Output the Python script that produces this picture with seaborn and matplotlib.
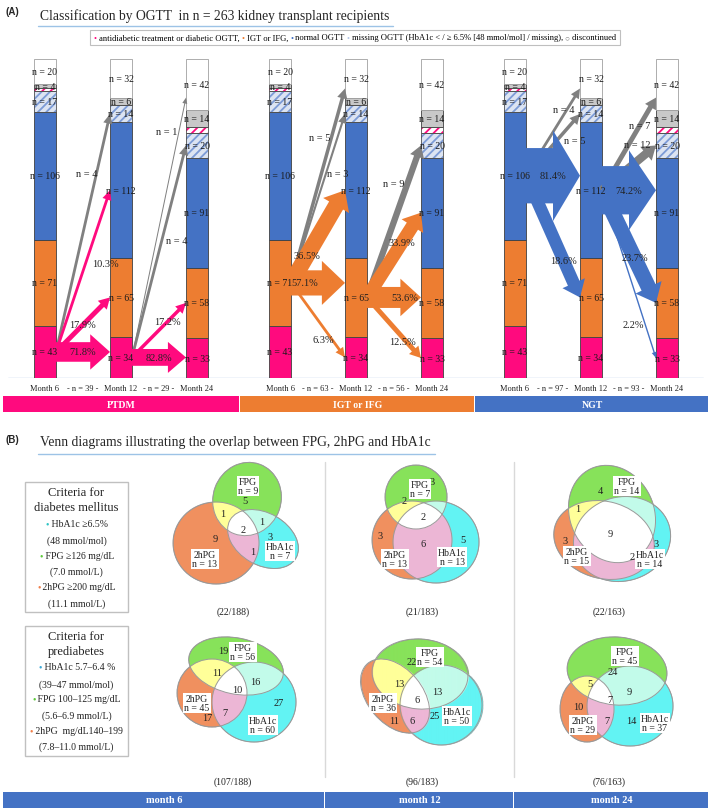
import numpy as np
import matplotlib
matplotlib.use('Agg')
import matplotlib.pyplot as plt
import seaborn as sns
from matplotlib.patches import Rectangle, Ellipse, FancyArrow
from matplotlib.offsetbox import TextArea, HPacker, AnchoredOffsetbox
from matplotlib.colors import to_rgba

# ---------------- data ----------------
groups = ['PTDM', 'IGT or IFG', 'NGT']
months = ['Month 6', 'Month 12', 'Month 24']
layers = ['PTDM', 'IGT', 'NGT', 'miss_low', 'miss_high', 'miss', 'disc']
month6_counts = [43, 71, 106, 17, 2, 4, 20]
month12_counts = [34, 65, 112, 14, 0, 6, 32]
month24_counts = [33, 58, 91, 20, 5, 14, 42]
interval_n = [[39, 29], [63, 56], [97, 93]]

nan = float('nan')
flow_group = [0, 0, 0, 0, 0, 0, 0, 0, 1, 1, 1, 1, 1, 1, 1, 1, 1, 2, 2, 2, 2, 2, 2, 2, 2, 2]
flow_step = [0, 0, 0, 0, 1, 1, 1, 1, 0, 0, 0, 0, 0, 1, 1, 1, 1, 0, 0, 0, 0, 1, 1, 1, 1, 1]
flow_target = ['PTDM', 'IGT', 'NGT', 'miss_low',
               'PTDM', 'IGT', 'miss_low', 'disc',
               'NGT', 'IGT', 'PTDM', 'disc', 'miss_low',
               'NGT', 'IGT', 'PTDM', 'miss_low',
               'NGT', 'IGT', 'disc', 'miss_low',
               'NGT', 'IGT', 'PTDM', 'disc', 'miss_low']
flow_pct = [71.8, 17.9, 10.3, nan,
            82.8, 17.2, nan, nan,
            36.5, 57.1, 6.3, nan, nan,
            33.9, 53.6, 12.5, nan,
            81.4, 18.6, nan, nan,
            74.2, 23.7, 2.2, nan, nan]
flow_n = [nan, nan, nan, 4,
          nan, nan, 4, 1,
          nan, nan, nan, 5, 3,
          nan, nan, nan, 9,
          nan, nan, 4, 5,
          nan, nan, nan, 7, 12]

venn_months = ['month 6', 'month 12', 'month 24']
# regions: FPG only, 2hPG only, HbA1c only, FPG&2hPG, FPG&HbA1c, 2hPG&HbA1c, all three
dm_regions = [[5, 9, 3, 1, 1, 1, 2], [3, 3, 5, 2, 0, 6, 2], [4, 3, 3, 1, 0, 2, 9]]
pre_regions = [[19, 17, 27, 11, 16, 7, 10], [22, 11, 25, 13, 13, 6, 6], [24, 10, 14, 5, 9, 7, 7]]
venn_denom = [188, 183, 163]

dm_heading = ['Criteria for', 'diabetes mellitus']
dm_items = [('HbA1c ≥6.5%', '(48 mmol/mol)'), ('FPG ≥126 mg/dL', '(7.0 mmol/L)'),
            ('2hPG ≥200 mg/dL', '(11.1 mmol/L)')]
pre_heading = ['Criteria for', 'prediabetes']
pre_items = [('HbA1c 5.7–6.4 %', '(39–47 mmol/mol)'), ('FPG 100–125 mg/dL', '(5.6–6.9 mmol/L)'),
             ('2hPG  mg/dL140–199', '(7.8–11.0 mmol/L)')]

# ---------------- style ----------------
sns.set_theme(style='white')
plt.rcParams['font.family'] = ['Liberation Serif', 'DejaVu Serif', 'DejaVu Sans']
plt.rcParams['hatch.linewidth'] = 1.3

PINK, ORANGE, BLUE, GRAY = '#FF0A7E', '#ED7D31', '#4472C4', '#808080'
group_colors = [PINK, ORANGE, BLUE]
layer_face = {'PTDM': PINK, 'IGT': ORANGE, 'NGT': BLUE, 'miss_low': '#DCE4F2',
              'miss_high': 'white', 'miss': '#C8C8C8', 'disc': 'white'}
layer_hatch = {'miss_low': ('////', '#7C9BD6'), 'miss_high': ('////', PINK)}

W, H = 709, 812
fig = plt.figure(figsize=(W / 100, H / 100), dpi=100)
base_px, top_px = 379, 58
axA = fig.add_axes([0, (H - base_px) / H, 1, (base_px - top_px) / H])
axT = fig.add_axes([0, 0, 1, 1], facecolor='none')
axA.axis('off')
axT.axis('off')
S_px, x0_px, G_px = 76.0, 45.0, 235.0
axA.set_xlim(-x0_px / S_px, (W - x0_px) / S_px)
axA.set_ylim(0, sum(month6_counts) + 2)
axT.set_xlim(0, W)
axT.set_ylim(H, 0)

G = G_px / S_px
bar_w = 22 / S_px
bar_counts = [month6_counts, month12_counts, month24_counts]


def pos(g, m):
    return g * G + m


def to_px(x, y):
    return axT.transData.inverted().transform(axA.transData.transform((x, y)))


def seg_bounds(m, layer):
    c = bar_counts[m]
    i = layers.index(layer)
    lo = sum(c[:i])
    return lo, lo + c[i]


# ---------------- panel A bars ----------------
for g in range(3):
    for m in range(3):
        c = bar_counts[m]
        bottom = 0
        for i, layer in enumerate(layers):
            v = c[i]
            if v == 0:
                continue
            x = pos(g, m)
            if layer in layer_hatch:
                hp, hc = layer_hatch[layer]
                axA.bar(x, v, bottom=bottom, width=bar_w, color=layer_face[layer],
                        edgecolor=hc, hatch=hp, linewidth=0, zorder=2)
                axA.bar(x, v, bottom=bottom, width=bar_w, fill=False,
                        edgecolor='#505050', linewidth=0.6, zorder=3)
            else:
                ec = '#a0a0a0' if layer == 'disc' else '#404040'
                axA.bar(x, v, bottom=bottom, width=bar_w, color=layer_face[layer],
                        edgecolor=ec, linewidth=0.6, zorder=2)
            bottom += v
axA.axhline(0, xmin=8 / W, xmax=703 / W, color='#B4C7E7', lw=1.0, zorder=1)

# ---------------- panel A arrows ----------------
label_layout = [(0.5, 0, 0), (0.5, 0, 0), (0.55, 20, 0), (0.75, -10, 0),
                (0.5, 0, 0), (0.65, 0, 0), (0.55, 15, 0), (0.87, -12, 0),
                (0.3, 0, 0), (0.25, 0, 0), (0.6, 0, 12), (0.75, -12, 0), (0.65, 12, 0),
                (0.65, 0, 0), (0.7, 0, 0), (0.65, 0, 5), (0.75, -14, 0),
                (0.5, 0, 0), (0.7, 0, 0), (0.7, 0, -5), (0.9, 0, 20),
                (0.5, 0, 0), (0.6, 0, 0), (0.8, -12, 0), (0.7, 0, 0), (0.8, -8, -10)]

order = sorted(range(len(flow_group)), key=lambda k: 0 if flow_target[k] in ('miss_low', 'disc') else 1)
arrow_texts = []
for k in order:
    g, s, tgt = flow_group[k], flow_step[k], flow_target[k]
    src = layers[g]
    lo, hi = seg_bounds(s, src)
    ys = (lo + hi) / 2
    tlo, thi = seg_bounds(s + 1, tgt)
    if tgt == src:
        ye = float(np.clip(ys, tlo + 4, thi - 4))
    elif tgt == 'disc':
        ye = tlo + 0.25 * (thi - tlo)
    else:
        ye = (tlo + thi) / 2
    pct = flow_pct[k]
    if np.isnan(pct):
        n = flow_n[k]
        col = GRAY
        lab = f'n = {int(n)}'
    else:
        n = round(pct * interval_n[g][s] / 100)
        col = group_colors[g]
        lab = f'{pct:.1f}%'
    xs, yps = to_px(pos(g, s) + bar_w / 2, ys)
    xe, ype = to_px(pos(g, s + 1) - bar_w / 2, ye)
    dx, dy = xe - xs, ype - yps
    L = np.hypot(dx, dy)
    shaft = max(1.0, 0.7 * n)
    if n <= 2:
        hw, hl = 5.0, 6.0
    else:
        hw = shaft * 1.55 + 5
        hl = min(0.5 * L, 0.6 * shaft + 8)
    axT.add_patch(FancyArrow(xs, yps, dx, dy, width=shaft, head_width=hw, head_length=hl,
                             length_includes_head=True, color=col, lw=0, zorder=4))
    t, ox, oy = label_layout[k]
    arrow_texts.append((xs + t * dx + ox, yps + t * dy + oy, lab))
for x, y, lab in arrow_texts:
    axT.text(x, y, lab, fontsize=7.5, ha='center', va='center', color='#222222', zorder=6)

# bar labels
for g in range(3):
    for m in range(3):
        c = bar_counts[m]
        for i, layer in enumerate(layers):
            if c[i] == 0 or layer == 'miss_high':
                continue
            lo, hi = seg_bounds(m, layer)
            px, py = to_px(pos(g, m), (lo + hi) / 2)
            axT.text(px, py, f'n = {c[i]}', fontsize=7, ha='center', va='center',
                     color='#1a1a1a', zorder=7)
    # month labels
    for m in range(3):
        px, _ = to_px(pos(g, m), 0)
        axT.text(px, 389, months[m], fontsize=6, ha='center', va='center', color='#222222')
    for s in range(2):
        px, _ = to_px(pos(g, s) + 0.5, 0)
        axT.text(px, 389, f'- n = {interval_n[g][s]} -', fontsize=6, ha='center', va='center',
                 color='#222222')

# group bands
band_x = [3, 240, 475, 709]
for g in range(3):
    axT.add_patch(Rectangle((band_x[g], 397), band_x[g + 1] - band_x[g] - 1, 16,
                            color=group_colors[g], lw=0, zorder=2))
    axT.text((band_x[g] + band_x[g + 1]) / 2, 405.5, groups[g], fontsize=7, color='white',
             fontweight='bold', ha='center', va='center', zorder=3)

# titles
axT.text(5, 12, '(A)', fontsize=7, fontweight='bold', family=['Liberation Sans', 'DejaVu Sans'],
         ha='left', va='center')
axT.text(40, 16, 'Classification by OGTT  in n = 263 kidney transplant recipients', fontsize=9.8,
         ha='left', va='center')
axT.plot([38, 393], [27, 27], color='#9DC3E6', lw=1)
axT.text(5, 440, '(B)', fontsize=7, fontweight='bold', family=['Liberation Sans', 'DejaVu Sans'],
         ha='left', va='center')
axT.text(40, 443, 'Venn diagrams illustrating the overlap between FPG, 2hPG and HbA1c', fontsize=9.8,
         ha='left', va='center')
axT.plot([38, 435], [455, 455], color='#9DC3E6', lw=1)

# legend
leg_parts = [('•', PINK), (' antidiabetic treatment or diabetic OGTT, ', 'black'),
             ('•', ORANGE), (' IGT or IFG, ', 'black'), ('•', BLUE), (' normal OGTT ', 'black'),
             ('•', '#B4C7E7'), (' missing OGTT (HbA1c < / ≥ 6.5% [48 mmol/mol] / missing), ', 'black'),
             ('○', GRAY), (' discontinued', 'black')]
hp = HPacker(children=[TextArea(t, textprops=dict(color=c, fontsize=6.1)) for t, c in leg_parts],
             sep=0, pad=0, align='center')
ab = AnchoredOffsetbox(loc='center', child=hp, bbox_to_anchor=(355, 38.5),
                       bbox_transform=axT.transData, frameon=True, pad=0.45, borderpad=0,
                       prop=dict(size=6.1))
ab.patch.set_edgecolor('#BFBFBF')
ab.patch.set_linewidth(0.8)
axT.add_artist(ab)

# ---------------- panel B ----------------
region_codes = [1, 2, 4, 3, 5, 6, 7]
region_colors = {1: '#88E25A', 2: '#F09060', 4: '#62F4F4', 3: '#FFFF99', 5: '#C2FBEA',
                 6: '#EDB6D6', 7: '#FFFFFF'}

dm_ellipses = [
    [(247, 500, 68, 74, 20), (216, 544, 86, 82, 0), (263, 540, 76, 52, 30)],
    [(416, 498, 62, 64, 0), (412, 541, 80, 78, 0), (436, 543, 86, 82, 0)],
    [(612, 515, 84, 100, -25), (604, 541, 102, 77, 15), (622, 540, 98, 84, -15)],
]
pre_ellipses = [
    [(236, 667, 96, 56, 12), (212, 694, 70, 68, 0), (254, 703, 84, 80, 0)],
    [(420, 675, 96, 70, 5), (395, 697, 85, 55, 50), (441, 706, 82, 80, 0)],
    [(617, 672, 100, 68, 5), (587, 710, 54, 66, 0), (630, 707, 86, 80, 0)],
]
dm_count_pos = [
    [(245, 502), (215, 540), (270, 538), (223, 515), (262, 523), (253, 553), (243, 531)],
    [(432, 483), (380, 537), (463, 541), (404, 502), (440, 505), (423, 545), (423, 518)],
    [(600, 492), (565, 542), (656, 545), (578, 510), (645, 505), (632, 558), (610, 535)],
]
pre_count_pos = [
    [(223, 652), (207, 719), (279, 704), (217, 674), (255, 683), (225, 714), (237, 691)],
    [(412, 663), (394, 722), (435, 717), (399, 685), (437, 693), (412, 722), (417, 701)],
    [(613, 673), (578, 708), (631, 722), (590, 685), (629, 693), (607, 722), (610, 701)],
]
dm_box_pos = [[(248, 487), (205, 560), (280, 552)], [(420, 490), (395, 560), (452, 558)],
              [(627, 487), (577, 557), (650, 560)]]
pre_box_pos = [[(243, 653), (197, 704), (263, 726)], [(430, 658), (383, 704), (457, 717)],
               [(625, 657), (583, 726), (655, 724)]]
frac_y = [612, 782]
frac_x = [233, 422, 609]


def draw_venn(ellipses, regions, count_pos, box_pos, denom, fx, fy):
    xmin = min(e[0] - max(e[2], e[3]) / 2 for e in ellipses) - 3
    xmax = max(e[0] + max(e[2], e[3]) / 2 for e in ellipses) + 3
    ymin = min(e[1] - max(e[2], e[3]) / 2 for e in ellipses) - 3
    ymax = max(e[1] + max(e[2], e[3]) / 2 for e in ellipses) + 3
    gx = np.arange(xmin, xmax, 0.25)
    gy = np.arange(ymin, ymax, 0.25)
    X, Y = np.meshgrid(gx, gy)
    code = np.zeros(X.shape, dtype=int)
    for bit, (cx, cy, w, h, a) in zip([1, 2, 4], ellipses):
        t = np.deg2rad(a)
        ddx, ddy = X - cx, Y - cy
        u = ddx * np.cos(t) + ddy * np.sin(t)
        v = -ddx * np.sin(t) + ddy * np.cos(t)
        code |= bit * (((u / (w / 2)) ** 2 + (v / (h / 2)) ** 2) <= 1)
    rgba = np.zeros(X.shape + (4,))
    for c, col in region_colors.items():
        rgba[code == c] = to_rgba(col)
    axT.imshow(rgba, extent=(gx[0], gx[-1], gy[-1], gy[0]), origin='upper',
               interpolation='bilinear', aspect='auto', zorder=2)
    for (cx, cy, w, h, a) in ellipses:
        axT.add_patch(Ellipse((cx, cy), w, h, angle=a, fill=False, ec='#9a9a9a', lw=0.7, zorder=3))
    for val, (px, py) in zip(regions, count_pos):
        if val == 0:
            continue
        axT.text(px, py, str(val), fontsize=7.5, ha='center', va='center', color='#222222', zorder=5)
    totals = [sum(r for r, c in zip(regions, region_codes) if c & bit) for bit in (1, 2, 4)]
    names = ['FPG', '2hPG', 'HbA1c']
    for name, tot, (px, py) in zip(names, totals, box_pos):
        axT.text(px, py, f'{name}\nn = {tot}', fontsize=7, ha='center', va='center',
                 linespacing=1.05, color='#222222', zorder=6,
                 bbox=dict(facecolor='white', edgecolor='none', pad=0.8))
    axT.text(fx, fy, f'({sum(regions)}/{denom})', fontsize=7, ha='center', va='center',
             color='#222222')


for j in range(3):
    draw_venn(dm_ellipses[j], dm_regions[j], dm_count_pos[j], dm_box_pos[j], venn_denom[j],
              frac_x[j], frac_y[0])
    draw_venn(pre_ellipses[j], pre_regions[j], pre_count_pos[j], pre_box_pos[j], venn_denom[j],
              frac_x[j], frac_y[1])

# separators
for sx in (325, 514):
    axT.plot([sx, sx], [463, 778], color='#D9D9D9', lw=1, zorder=1)

# month bands
mb_x = [3, 325, 514, 709]
for j in range(3):
    axT.add_patch(Rectangle((mb_x[j], 793), mb_x[j + 1] - mb_x[j] - 1, 16, color=BLUE, lw=0, zorder=2))
    axT.text((mb_x[j] + mb_x[j + 1]) / 2, 801, venn_months[j], fontsize=7.5, color='white',
             fontweight='bold', ha='center', va='center', zorder=3)


# criteria boxes
def criteria_box(y0, y1, heading, items, bullet_colors, ys):
    axT.add_patch(Rectangle((25, y0), 103, y1 - y0, fill=False, ec='#C0C0C0', lw=1.0, zorder=2))
    cx = 76.5
    for txt, y in zip(heading, ys[:2]):
        axT.text(cx, y, txt, fontsize=9, ha='center', va='center', color='#222222')
    for (main, sub), bc, y_main, y_sub in zip(items, bullet_colors, ys[2::2], ys[3::2]):
        hpk = HPacker(children=[TextArea('•', textprops=dict(color=bc, fontsize=7)),
                                TextArea(' ' + main, textprops=dict(color='#222222', fontsize=7))],
                      sep=0, pad=0, align='center')
        abx = AnchoredOffsetbox(loc='center', child=hpk, bbox_to_anchor=(cx, y_main),
                                bbox_transform=axT.transData, frameon=False, pad=0, borderpad=0)
        axT.add_artist(abx)
        axT.text(cx, y_sub, sub, fontsize=7, ha='center', va='center', color='#222222')


criteria_box(483, 613, dm_heading, dm_items, ['#2EC4C4', '#5CC93A', '#F07F4A'],
             [493, 508, 525, 541, 557, 572, 588, 604])
criteria_box(627, 757, pre_heading, pre_items, ['#3AA7D6', '#5CC93A', '#F07F4A'],
             [637, 652, 668, 685, 700, 716, 732, 747])

axT.set_xlim(0, W)
axT.set_ylim(H, 0)
fig.savefig('out.png', dpi=100)
